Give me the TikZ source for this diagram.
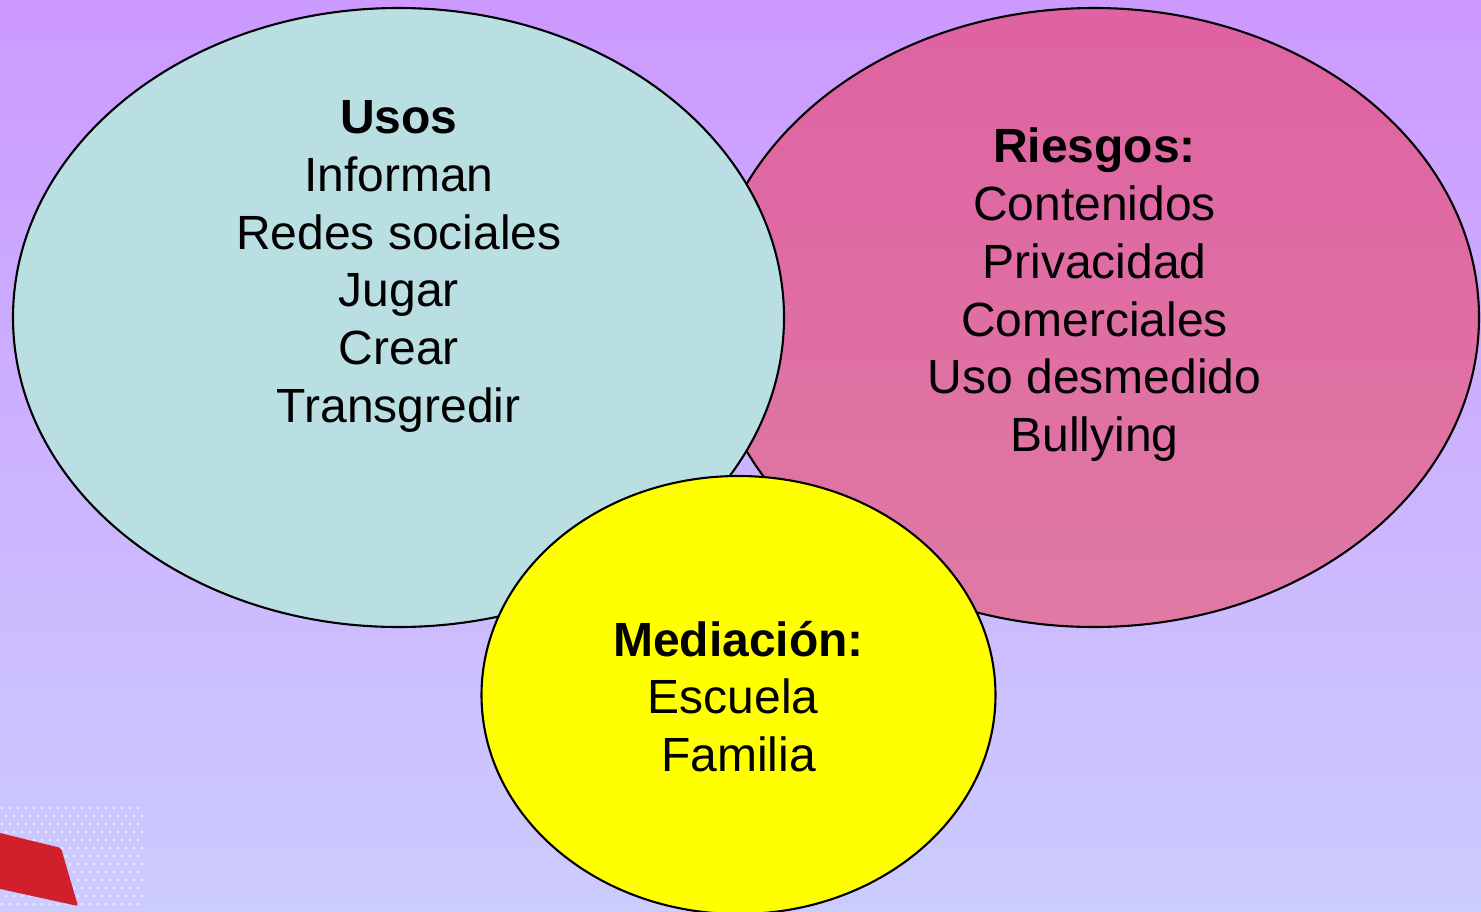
\documentclass[tikz,border=0pt]{standalone}
\usepackage{fontspec}
\setmainfont{Liberation Sans}
\definecolor{bgtop}{HTML}{CC99FF}
\definecolor{bgbot}{HTML}{CCCCFF}
\definecolor{usoscol}{HTML}{B9DFE2}
\definecolor{riesgotop}{HTML}{DF62A2}
\definecolor{riesgobot}{HTML}{DF7AA4}
\definecolor{redmark}{HTML}{D0202C}
\definecolor{dotcol}{HTML}{EDEAFF}
\definecolor{yel}{RGB}{255,255,0}
\tikzset{
  blob/.style={draw=black,line width=2.1pt},
  lbl/.style={align=center,font=\fontsize{48}{57.8}\selectfont,text=black,inner sep=0pt}
}
\begin{document}
\begin{tikzpicture}[x=1pt,y=-1pt]
\useasboundingbox (0,0) rectangle (1481,911);
\shade[top color=bgtop,bottom color=bgbot] (0,0) rectangle (1481,911);
% dotted texture and red mark
\foreach \r in {0,...,12}{
  \foreach \c in {0,...,17}{
    \fill[dotcol] ({2+\c*8+mod(\r,2)*4},{808+\r*8}) circle (1.5);
  }
}
\fill[redmark,rounded corners=2pt] (-4,832) -- (61,848) -- (78,906) -- (-4,888) -- cycle;
\clip (0,0) rectangle (1481,911);
\draw[blob,top color=riesgotop,bottom color=riesgobot] (1094,317.5) ellipse [x radius=385,y radius=309.5];
\draw[blob,fill=usoscol] (398.5,317.5) ellipse [x radius=385.5,y radius=309.5];
\draw[blob,fill=yel] (738.5,695) ellipse [x radius=257,y radius=219];
\node[lbl] (usos) at (398.8,266.5) {\textbf{Usos}\\Informan\\Redes sociales\\Jugar\\Crear\\Transgredir};
\node[lbl] (riesgos) at (1094.6,294.7) {\textbf{Riesgos:}\\Contenidos\\Privacidad\\Comerciales\\Uso desmedido\\Bullying};
\node[lbl] (mediacion) at (738.6,696.5) {\textbf{Mediación:}\\\mbox{Escuela\hspace{11pt}}\\Familia};
\end{tikzpicture}
\end{document}
